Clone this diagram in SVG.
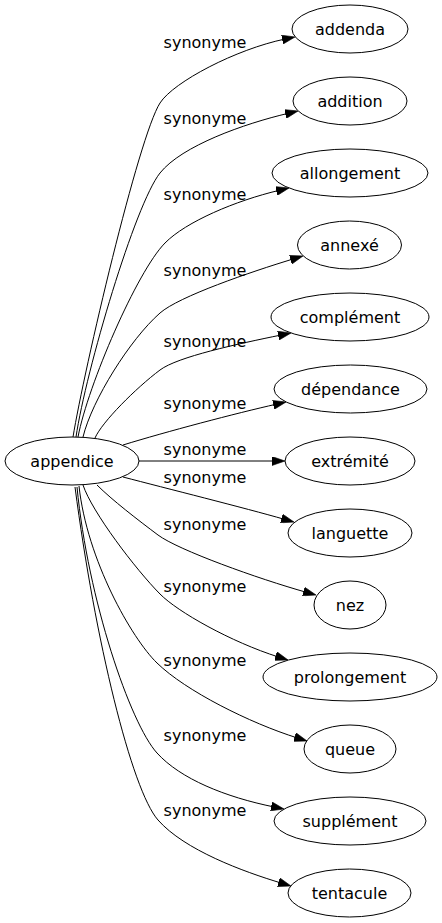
<svg xmlns="http://www.w3.org/2000/svg" width="442" height="923" viewBox="0 0 442 923">
<style>
.n ellipse{fill:#fff;stroke:#000;stroke-width:1}
text{font-family:"DejaVu Sans","Liberation Sans",sans-serif;font-size:16px;fill:#000}
.n text{text-anchor:middle}
.l text{text-anchor:middle}
.e path{fill:none;stroke:#000;stroke-width:1;marker-end:url(#ah)}
</style>
<defs>
<marker id="ah" viewBox="0 0 13 9" refX="3" refY="4.5" markerWidth="13" markerHeight="9" markerUnits="userSpaceOnUse" orient="auto">
<path d="M0,0 L13,4.5 L0,9 z" fill="#000" stroke="#000" stroke-width="0.6"/>
</marker>
</defs>
<rect width="442" height="923" fill="#fff"/>
<g id="edges" class="e">
<path d="M73,437 C84,370 138.5,136.7 160,103 C173.5,81.9 236,49.2 285.2,39"/>
<path d="M76,437 C86,370 135.2,204.2 160,173 C181.7,145.7 244.5,123.6 288.3,113.3"/>
<path d="M78,437 C88,385 137,271.4 165,243 C186,221.7 235.5,200.7 279.3,190.3"/>
<path d="M83,437 C92,400 130,339.4 160,313 C178.75,296.5 250.3,272 293.4,258.9"/>
<path d="M95,438 C102,422 136,388 160,370 C177.6,356.8 237.1,344 281.2,335"/>
<path d="M123,445 C165,432 237,413 276.3,404.2"/>
<path d="M139,461 L275,461"/>
<path d="M123,477 C165,488 245,508 284.4,519.3"/>
<path d="M97,485 C112,500 138,520 158,535 C178,550 258.3,578.8 306.4,592.3"/>
<path d="M83,485 C92,512 135.5,569.2 160,594 C177.5,611.8 230.9,641.9 278.5,657"/>
<path d="M79,486 C87,560 131.8,638.5 157,663 C185.8,691 249.8,723 297.5,738"/>
<path d="M77,487 C88,600 130.2,723.4 157,753 C180.5,778.9 225.2,797 274.2,807"/>
<path d="M75,487 C95,640 131.6,790 158,820 C184.4,850 243.1,871.6 281.4,883.1"/>
</g>
<g id="labels" class="l">
<text x="205" y="47.5">synonyme</text>
<text x="205" y="124">synonyme</text>
<text x="205" y="200">synonyme</text>
<text x="205" y="275.5">synonyme</text>
<text x="205" y="347">synonyme</text>
<text x="205" y="408.5">synonyme</text>
<text x="205" y="455">synonyme</text>
<text x="205" y="483">synonyme</text>
<text x="205" y="530">synonyme</text>
<text x="205" y="592">synonyme</text>
<text x="205" y="666">synonyme</text>
<text x="205" y="741">synonyme</text>
<text x="205" y="816">synonyme</text>
</g>
<g id="appendice" class="n"><ellipse cx="72" cy="461" rx="67" ry="24"/><text x="72" y="466.5">appendice</text></g>
<g id="addenda" class="n"><ellipse cx="350" cy="29" rx="58" ry="24"/><text x="350" y="34.5">addenda</text></g>
<g id="addition" class="n"><ellipse cx="350" cy="101" rx="57" ry="24"/><text x="350" y="106.5">addition</text></g>
<g id="allongement" class="n"><ellipse cx="350" cy="173" rx="78" ry="24"/><text x="350" y="178.5">allongement</text></g>
<g id="annexe" class="n"><ellipse cx="349.5" cy="245" rx="52" ry="24"/><text x="349.5" y="250.5">annexé</text></g>
<g id="complement" class="n"><ellipse cx="350" cy="317" rx="79" ry="24"/><text x="350" y="322.5">complément</text></g>
<g id="dependance" class="n"><ellipse cx="350.5" cy="389" rx="76.5" ry="24"/><text x="350.5" y="394.5">dépendance</text></g>
<g id="extremite" class="n"><ellipse cx="350" cy="461" rx="65" ry="24"/><text x="350" y="466.5">extrémité</text></g>
<g id="languette" class="n"><ellipse cx="350" cy="533" rx="62" ry="24"/><text x="350" y="538.5">languette</text></g>
<g id="nez" class="n"><ellipse cx="350" cy="605" rx="36" ry="24"/><text x="350" y="610.5">nez</text></g>
<g id="prolongement" class="n"><ellipse cx="350" cy="677" rx="87" ry="24"/><text x="350" y="682.5">prolongement</text></g>
<g id="queue" class="n"><ellipse cx="350" cy="749" rx="46" ry="24"/><text x="350" y="754.5">queue</text></g>
<g id="supplement" class="n"><ellipse cx="350" cy="821" rx="76" ry="24"/><text x="350" y="826.5">supplément</text></g>
<g id="tentacule" class="n"><ellipse cx="349.5" cy="893" rx="61.5" ry="24"/><text x="349.5" y="898.5">tentacule</text></g>
</svg>
